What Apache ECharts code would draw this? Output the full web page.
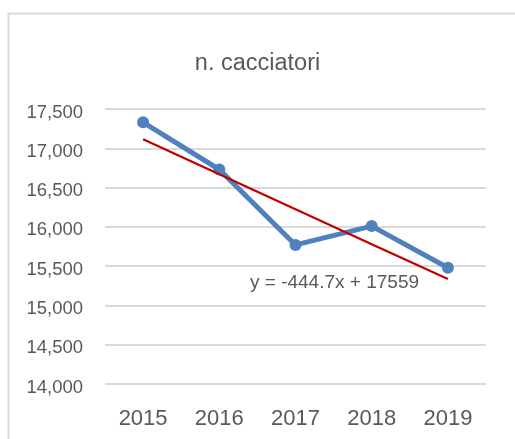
<!DOCTYPE html>
<html>
<head>
<meta charset="utf-8">
<script src="https://cdn.jsdelivr.net/npm/echarts@6/dist/echarts.min.js"></script>
<style>
  html, body { margin: 0; padding: 0; background: #fff; }
  #chart { width: 515px; height: 439px; }
</style>
</head>
<body>
<div id="chart"></div>
<script>
// dati
const years = ['2015', '2016', '2017', '2018', '2019'];
const cacciatori = [17330, 16730, 15770, 16010, 15480];
// linea di tendenza: y = -444.7x + 17559
const tendenza = [17114, 16670, 16225, 15780, 15336];
const equazione = 'y = -444.7x + 17559';

const myChart = echarts.init(document.getElementById('chart'));

const font = '"Liberation Sans", Arial, sans-serif';

const option = {
  backgroundColor: '#fff',
  animation: false,
  title: {
    text: 'n. cacciatori',
    left: 'center',
    top: 47,
    textStyle: { fontFamily: font, fontSize: 23.5, fontWeight: 'normal', color: '#595959' }
  },
  grid: { left: 105, right: 29, top: 109, bottom: 55 },
  xAxis: {
    type: 'category',
    data: years,
    boundaryGap: true,
    axisLine: { show: false },
    axisTick: { show: false },
    axisLabel: { fontFamily: font, fontSize: 22, color: '#595959', margin: 24 }
  },
  yAxis: {
    type: 'value',
    min: 14000,
    max: 17500,
    interval: 500,
    axisLine: { show: false },
    axisTick: { show: false },
    axisLabel: {
      fontFamily: font, fontSize: 18.5, color: '#595959', margin: 22,
      formatter: function (v) { return '{a|' + v.toLocaleString('en-US') + '}'; },
      rich: {
        a: { fontFamily: font, fontSize: 18.5, color: '#595959', padding: [7, 0, 0, 0] }
      }
    },
    splitLine: { lineStyle: { color: '#d9d9d9', width: 2 } }
  },
  series: [
    {
      name: 'n. cacciatori',
      type: 'line',
      data: cacciatori,
      symbol: 'circle',
      symbolSize: 12,
      lineStyle: { color: '#4f81bd', width: 5 },
      itemStyle: { color: '#4f81bd' },
      z: 2
    },
    {
      name: 'tendenza',
      type: 'line',
      data: tendenza,
      symbol: 'none',
      lineStyle: { color: '#c00000', width: 2.2 },
      z: 3
    }
  ],
  graphic: [
    {
      type: 'rect',
      shape: { x: 8.5, y: 13.5, width: 520, height: 440 },
      style: { fill: 'none', stroke: '#d9d9d9', lineWidth: 2 },
      silent: true
    },
    {
      type: 'text',
      left: 250,
      top: 273,
      style: { text: equazione, font: '19px ' + font, fill: '#595959' }
    }
  ]
};

myChart.setOption(option);
</script>
</body>
</html>
